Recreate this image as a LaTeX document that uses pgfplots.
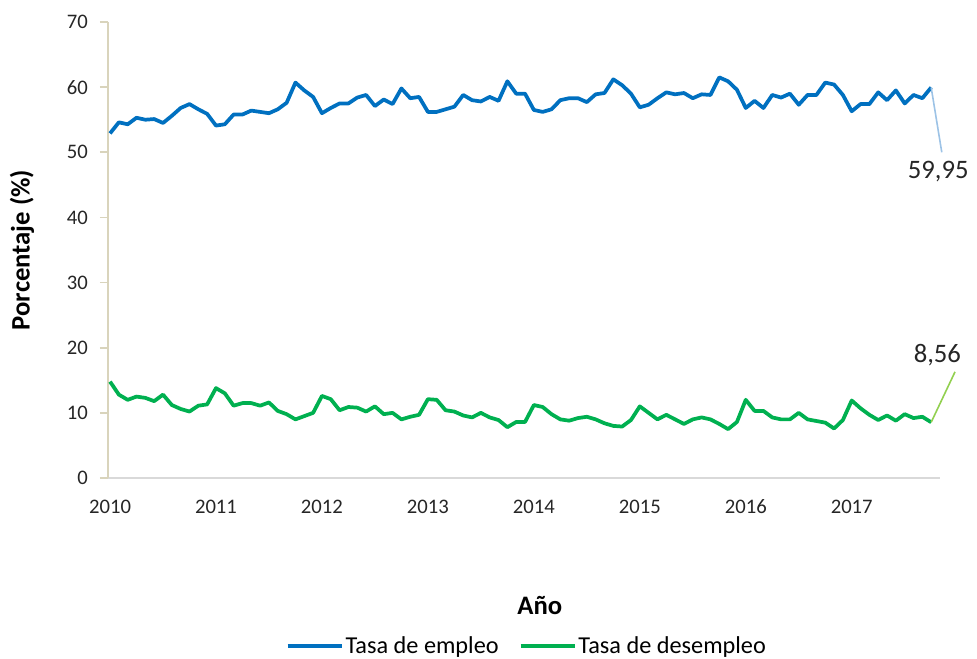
\documentclass[border=0pt]{standalone}
\usepackage{pgfplots}
\pgfplotsset{compat=1.18}
\usepackage{pgfplotstable}
\usepackage{fontspec}
\setmainfont{Carlito}
\definecolor{empleo}{HTML}{0070C0}
\definecolor{desempleo}{HTML}{00B050}
\definecolor{leadblue}{HTML}{9DC3E6}
\definecolor{leadgreen}{HTML}{92D050}
\definecolor{yaxisc}{HTML}{D9D4BC}
\definecolor{xaxisc}{HTML}{D9D9D9}
\pgfplotstableread{
i emp des
0 52.9 14.8
1 54.6 12.8
2 54.3 12.0
3 55.3 12.5
4 55.0 12.3
5 55.1 11.8
6 54.5 12.8
7 55.6 11.2
8 56.8 10.6
9 57.4 10.2
10 56.6 11.1
11 55.9 11.3
12 54.1 13.8
13 54.3 13.0
14 55.8 11.1
15 55.8 11.5
16 56.4 11.5
17 56.2 11.1
18 56.0 11.6
19 56.6 10.3
20 57.6 9.8
21 60.7 9.0
22 59.5 9.5
23 58.5 10.0
24 56.0 12.6
25 56.8 12.1
26 57.5 10.4
27 57.5 10.9
28 58.4 10.8
29 58.8 10.2
30 57.1 11.0
31 58.1 9.8
32 57.4 10.0
33 59.8 9.0
34 58.3 9.4
35 58.5 9.7
36 56.2 12.1
37 56.2 12.0
38 56.6 10.4
39 57.0 10.2
40 58.8 9.6
41 58.0 9.3
42 57.8 10.0
43 58.5 9.3
44 57.9 8.9
45 60.9 7.8
46 59.0 8.6
47 59.0 8.6
48 56.5 11.2
49 56.2 10.9
50 56.6 9.8
51 58.0 9.0
52 58.3 8.8
53 58.3 9.2
54 57.7 9.4
55 58.9 9.0
56 59.1 8.4
57 61.2 8.0
58 60.3 7.9
59 59.0 8.9
60 56.9 11.0
61 57.3 10.0
62 58.3 9.0
63 59.2 9.7
64 58.9 9.0
65 59.1 8.3
66 58.3 9.0
67 58.9 9.3
68 58.8 9.0
69 61.5 8.3
70 60.9 7.5
71 59.6 8.6
72 56.8 12.0
73 57.9 10.3
74 56.8 10.3
75 58.8 9.3
76 58.4 9.0
77 59.0 9.0
78 57.3 10.0
79 58.8 9.0
80 58.8 8.75
81 60.7 8.5
82 60.4 7.6
83 58.8 8.9
84 56.3 11.9
85 57.4 10.7
86 57.4 9.7
87 59.2 8.9
88 58.0 9.6
89 59.5 8.8
90 57.5 9.8
91 58.8 9.2
92 58.3 9.4
93 59.95 8.56
}\datatable
\begin{document}
\begin{tikzpicture}
\useasboundingbox (-81pt,-135pt) rectangle (651.75pt,358.5pt);
\begin{axis}[
  scale only axis,
  width=624pt, height=342pt,
  at={(0,0)}, anchor=south west,
  xmin=-0.23, xmax=94, ymin=0, ymax=70,
  clip=false,
  axis lines*=left,
  x axis line style={draw=xaxisc, line width=1.6pt, -},
  y axis line style={draw=yaxisc, line width=1.6pt, -},
  xtick={0,12,24,36,48,60,72,84},
  xticklabels={2010,2011,2012,2013,2014,2015,2016,2017},
  ytick={0,10,...,70},
  xtick style={draw=none},
  ytick style={draw=yaxisc, line width=1.2pt},
  tick align=outside,
  major tick length=6pt,
  /pgf/number format/assume math mode=true,
  ticklabel style={font=\fontsize{15.5}{18}\selectfont, text=black!85},
  yticklabel style={anchor=east, inner sep=0pt, xshift=-9pt},
  xticklabel style={anchor=north, inner sep=0pt, yshift=-10pt},
  xlabel={Año},
  ylabel={Porcentaje (\%)},
  xlabel style={font=\bfseries\fontsize{20}{24}\selectfont, at={(axis description cs:0.519,-0.2785)}, anchor=center},
  ylabel style={font=\bfseries\fontsize{20}{24}\selectfont, at={(axis description cs:-0.1034,0.5)}, anchor=center, rotate=0},
  legend columns=2,
  legend style={draw=none, fill=none, at={(axis description cs:0.503,-0.368)}, anchor=center,
    font=\fontsize{18.2}{21}\selectfont, column sep=0pt,
    nodes={inner sep=1pt},
    /tikz/every even column/.append style={column sep=14pt}},
  legend image code/.code={\draw[#1] (0pt,0pt) -- (41pt,0pt);},
]
\addplot[empleo, line width=2.8pt, line join=round] table[x=i, y=emp] {\datatable};
\addlegendentry{Tasa de empleo}
\addplot[desempleo, line width=2.8pt, line join=round] table[x=i, y=des] {\datatable};
\addlegendentry{Tasa de desempleo}
\addplot[leadblue, line width=1.2pt, forget plot] coordinates {(93,59.95) (94.2,50.0)};
\addplot[leadgreen, line width=1.2pt, forget plot] coordinates {(93,8.56) (95.7,16.3)};
\node[font=\fontsize{20}{24}\selectfont, text=black!85] at (axis cs:93.8,47.0) {59,95};
\node[font=\fontsize{20}{24}\selectfont, text=black!85] at (axis cs:93.7,18.9) {8,56};
\end{axis}
\end{tikzpicture}
\end{document}
